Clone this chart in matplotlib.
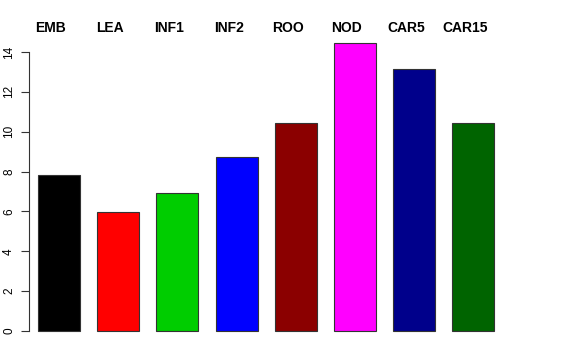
import matplotlib
matplotlib.use("Agg")
import matplotlib.pyplot as plt
import numpy as np

# bar heights
labels = ["EMB", "LEA", "INF1", "INF2", "ROO", "NOD", "CAR5", "CAR15"]
values = [7.82, 5.96, 6.91, 8.72, 10.45, 14.45, 13.15, 10.45]
colors = ["#000000", "#FF0000", "#00CD00", "#0000FF", "#8B0000", "#FF00FF", "#00008B", "#006400"]
yticks = [0, 2, 4, 6, 8, 10, 12, 14]

plt.rcParams['font.family'] = ['Liberation Sans', 'DejaVu Sans']

W, H = 576, 360
fig = plt.figure(figsize=(W / 100, H / 100), dpi=100)
# axes box in pixels: left 29, right 530, top 37, bottom 340
ax = fig.add_axes([29 / W, 1 - 340 / H, (530 - 29) / W, (340 - 37) / H])

x = np.arange(len(values))
ax.bar(x, values, width=0.71, color=colors, edgecolor="#333333", linewidth=0.8)

step = 59.2  # pixels per bar slot
ax.set_xlim(-30 / step, (530 - 59) / step)
ppu = (331 - 52) / 14.0
ax.set_ylim(-(340 - 331) / ppu, 14 + (52 - 37) / ppu)

for s in ["top", "right", "bottom"]:
    ax.spines[s].set_visible(False)
ax.spines["left"].set_bounds(0, 14)
ax.spines["left"].set_linewidth(0.8)
ax.spines["left"].set_color("#333333")
ax.set_xticks([])
ax.set_yticks(yticks)
ax.set_yticklabels([str(t) for t in yticks], rotation=90, va="center", fontsize=8.5)
ax.tick_params(axis="y", length=6, width=0.8, pad=4, color="#333333")

# group names across the top
for i, lab in enumerate(labels):
    fig.text((59 + i * step - 8) / W, 1 - 28 / H, lab, ha="center", va="center",
             fontsize=10, fontweight="bold")

fig.savefig("out.png", dpi=100)
